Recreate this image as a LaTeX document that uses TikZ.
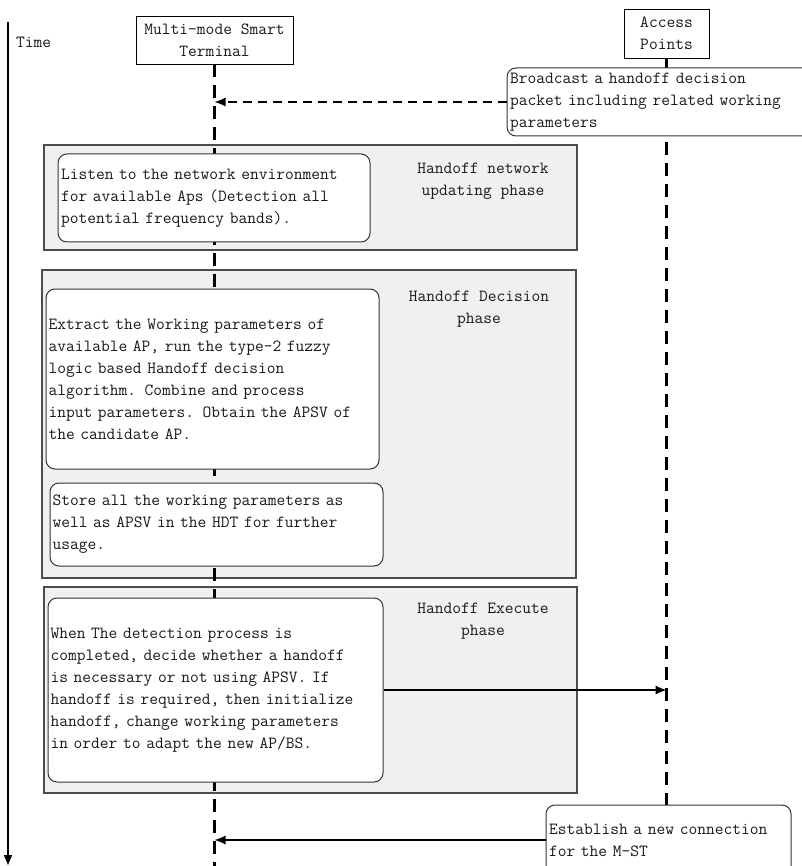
\documentclass[tikz,border=0pt]{standalone}
\usepackage{fontspec}
\usetikzlibrary{arrows.meta}
\begin{document}
\begin{tikzpicture}[x=1pt,y=-1pt,
  every node/.style={font=\ttfamily\fontsize{17}{22}\selectfont, text=black!90},
  phasebox/.style={draw=black!70, line width=1.1pt, fill=black!6, inner sep=0pt},
  actbox/.style={draw=black!80, line width=1pt, fill=white, rounded corners=9pt, align=left, inner xsep=2.5pt, inner ysep=0pt},
  headbox/.style={draw=black, line width=0.9pt, fill=white, align=center, inner sep=0pt},
  phaselabel/.style={align=center, inner sep=0pt},
  lifeline/.style={line width=2.2pt, dash pattern=on 13pt off 8pt},
  msgdash/.style={line width=1.1pt, dash pattern=on 9pt off 6pt, -{Latex[length=11pt,width=9pt]}},
  msg/.style={line width=1.1pt, -{Latex[length=11pt,width=9pt]}},
  timeline/.style={line width=1.5pt, -{Triangle[length=10pt,width=8pt]}}
]
\useasboundingbox (0,0) rectangle (801,866);

% time axis
\coordinate (t0) at (8,22);
\coordinate (t1) at (8,865);
\draw[timeline] (t0) -- (t1);
\node[anchor=west, inner sep=0pt] (time) at (16,42) {Time};

% phase boxes
\node[phasebox, minimum width=533pt, minimum height=105pt] (ph1) at (310.5,197.5) {};
\node[phasebox, minimum width=534pt, minimum height=308pt] (ph2) at (309,424) {};
\node[phasebox, minimum width=533pt, minimum height=206pt] (ph3) at (310.5,690) {};

\node[phaselabel] (lb1) at (483,181) {Handoff network\\updating phase};
\node[phaselabel] (lb2) at (479,309) {Handoff Decision\\phase};
\node[phaselabel] (lb3) at (483,621) {Handoff Execute\\phase};

% head boxes
\node[headbox, minimum width=157pt, minimum height=48pt] (mst) at (214.5,40) {Multi-mode Smart\\Terminal};
\node[headbox, minimum width=85pt, minimum height=49pt] (ap) at (666.5,33.5) {Access\\Points};

% lifelines
\coordinate (mstend) at (215,866);
\draw[lifeline] (mst.south) -- (mst.south |- mstend);

% activity boxes
\node[actbox, text width=306pt, inner xsep=3pt, minimum height=88pt] (listen) at (214,198)
  {Listen to the network environment\\for available Aps (Detection all\\potential frequency bands).};
\node[actbox, text width=328pt, minimum height=180pt] (extract) at (212.5,379)
  {Extract the Working parameters of\\available AP, run the type-2 fuzzy\\logic based Handoff decision\\algorithm. Combine and process\\input parameters. Obtain the APSV of\\the candidate AP.};
\node[actbox, text width=328pt, minimum height=83pt] (store) at (216.5,524.5)
  {Store all the working parameters as\\well as APSV in the HDT for further\\usage.};
\node[actbox, text width=330pt, minimum height=184pt] (when) at (215.5,690)
  {When The detection process is\\completed, decide whether a handoff\\is necessary or not using APSV. If\\handoff is required, then initialize\\handoff, change working parameters\\in order to adapt the new AP/BS.};

\coordinate (estTop) at (667,805);
\draw[lifeline] (ap.south) -- (ap.south |- estTop);

\node[actbox, text width=330pt, inner xsep=3pt, minimum height=68pt] (bc) at (675,102)
  {Broadcast a handoff decision\\packet including related working\\parameters};
\node[actbox, text width=239pt, inner xsep=3pt, minimum height=70pt] (est) at (668.5,840)
  {Establish a new connection\\for the M-ST};

% messages
\draw[msgdash] (bc.west) -- (bc.west -| mst);
\draw[msg] (when.east) -- (when.east -| ap);
\draw[msg] (est.west) -- (est.west -| mst);
\end{tikzpicture}
\end{document}
